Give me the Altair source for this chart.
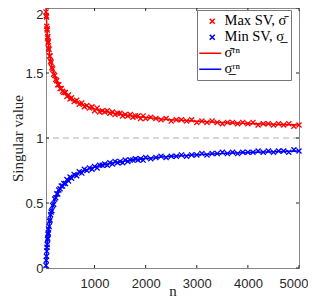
import altair as alt
import pandas as pd

# ---------------- data ----------------
n_vals = [50, 55, 60, 65, 70, 75, 80, 85, 90, 95, 100, 110, 120, 130, 140, 150, 165, 180,
          200, 220, 240, 260, 280, 300, 325, 350, 375, 400, 430, 460, 490, 520, 550,
          600, 650, 700, 750, 800, 850, 900, 950, 1000,
          1050, 1100, 1150, 1200, 1250, 1300, 1350, 1400, 1450, 1500, 1550, 1600, 1650,
          1700, 1750, 1800, 1850, 1900, 1950, 2000,
          2100, 2200, 2300, 2400, 2500, 2600, 2700, 2800, 2900, 3000, 3100, 3200, 3300,
          3400, 3500, 3600, 3700, 3800, 3900, 4000, 4100, 4200, 4300, 4400, 4500, 4600,
          4700, 4800, 4900, 5000]

max_sv = [1.97, 1.94, 1.93, 1.86, 1.84, 1.83, 1.77, 1.78, 1.73, 1.74, 1.69, 1.68, 1.63, 1.63, 1.59, 1.58, 1.54, 1.53,
          1.49, 1.48, 1.45, 1.44, 1.41, 1.41, 1.38, 1.38, 1.36, 1.35, 1.35, 1.32, 1.33, 1.30, 1.31,
          1.28, 1.29, 1.26, 1.27, 1.24, 1.25, 1.23, 1.24, 1.21,
          1.23, 1.20, 1.21, 1.20, 1.21, 1.19, 1.20, 1.18, 1.19, 1.19, 1.17, 1.18, 1.17,
          1.18, 1.16, 1.17, 1.17, 1.15, 1.17, 1.15,
          1.16, 1.15, 1.14, 1.15, 1.13, 1.14, 1.14, 1.13, 1.14, 1.12, 1.13, 1.12, 1.13,
          1.12, 1.11, 1.12, 1.12, 1.11, 1.12, 1.11, 1.12, 1.10, 1.11, 1.11, 1.10, 1.11,
          1.10, 1.11, 1.09, 1.10]

min_sv = [0.02, 0.06, 0.09, 0.13, 0.16, 0.18, 0.22, 0.23, 0.26, 0.27, 0.30, 0.32, 0.36, 0.37, 0.41, 0.43, 0.44, 0.48,
          0.49, 0.53, 0.54, 0.57, 0.57, 0.60, 0.61, 0.63, 0.63, 0.65, 0.65, 0.68, 0.67, 0.70, 0.69,
          0.72, 0.71, 0.74, 0.73, 0.76, 0.75, 0.77, 0.76, 0.78,
          0.77, 0.79, 0.79, 0.80, 0.79, 0.81, 0.80, 0.82, 0.81, 0.82, 0.81, 0.83, 0.82,
          0.83, 0.83, 0.84, 0.83, 0.84, 0.83, 0.85,
          0.84, 0.85, 0.86, 0.85, 0.86, 0.86, 0.87, 0.86, 0.87, 0.87, 0.88, 0.87, 0.88,
          0.88, 0.89, 0.88, 0.89, 0.88, 0.89, 0.89, 0.89, 0.90, 0.89, 0.90, 0.89, 0.90,
          0.90, 0.89, 0.91, 0.90]

max_rn = [2.000, 1.953, 1.913, 1.877, 1.845, 1.816, 1.791, 1.767, 1.745, 1.725, 1.707, 1.674, 1.645, 1.620, 1.598, 1.577, 1.550, 1.527,
          1.500, 1.477, 1.456, 1.439, 1.423, 1.408, 1.392, 1.378, 1.365, 1.354, 1.341, 1.330, 1.319, 1.310, 1.302,
          1.289, 1.277, 1.267, 1.258, 1.250, 1.243, 1.236, 1.229, 1.224,
          1.218, 1.213, 1.209, 1.204, 1.200, 1.196, 1.192, 1.189, 1.186, 1.183, 1.180, 1.177, 1.174,
          1.171, 1.169, 1.167, 1.164, 1.162, 1.160, 1.158,
          1.154, 1.151, 1.147, 1.144, 1.141, 1.139, 1.136, 1.134, 1.131, 1.129, 1.127, 1.125, 1.123,
          1.121, 1.120, 1.118, 1.116, 1.115, 1.113, 1.112, 1.110, 1.109, 1.108, 1.107, 1.105, 1.104,
          1.103, 1.102, 1.101, 1.100]

min_rn = [0.000, 0.047, 0.087, 0.123, 0.155, 0.184, 0.209, 0.233, 0.255, 0.275, 0.293, 0.326, 0.355, 0.380, 0.402, 0.423, 0.450, 0.473,
          0.500, 0.523, 0.544, 0.561, 0.577, 0.592, 0.608, 0.622, 0.635, 0.646, 0.659, 0.670, 0.681, 0.690, 0.698,
          0.711, 0.723, 0.733, 0.742, 0.750, 0.757, 0.764, 0.771, 0.776,
          0.782, 0.787, 0.791, 0.796, 0.800, 0.804, 0.808, 0.811, 0.814, 0.817, 0.820, 0.823, 0.826,
          0.829, 0.831, 0.833, 0.836, 0.838, 0.840, 0.842,
          0.846, 0.849, 0.853, 0.856, 0.859, 0.861, 0.864, 0.866, 0.869, 0.871, 0.873, 0.875, 0.877,
          0.879, 0.880, 0.882, 0.884, 0.885, 0.887, 0.888, 0.890, 0.891, 0.892, 0.893, 0.895, 0.896,
          0.897, 0.898, 0.899, 0.900]

x_ticks = [1000, 2000, 3000, 4000, 5000]
y_ticks = [0, 0.5, 1, 1.5, 2]
x_domain = [50, 5000]
y_domain = [0, 2]
ref_level = [1.0]

keys = ["maxsv", "minsv", "maxrn", "minrn"]
labels = ["Max SV, σ̄", "Min SV, σ̲", "σ̄ʳⁿ", "σ̲ʳⁿ"]
colors = ["#ff0000", "#0000ff", "#ff0000", "#0000ff"]

# ---------------- tables ----------------
N = len(n_vals)
pts = pd.DataFrame({"n": n_vals * 2, "v": max_sv + min_sv,
                    "s": ["maxsv"] * N + ["minsv"] * N})
lns = pd.DataFrame({"n": n_vals * 2, "v": max_rn + min_rn,
                    "s": ["maxrn"] * N + ["minrn"] * N})
both = pd.concat([pts, lns], ignore_index=True)
ref = pd.DataFrame({"level": ref_level})
xt = pd.DataFrame({"t": x_ticks})
yt = pd.DataFrame({"t": y_ticks})

W, H = 253, 260
# inward tick length (3 px) expressed in data units
TDY = 3 / H * (y_domain[1] - y_domain[0])
TDX = 3 / W * (x_domain[1] - x_domain[0])

XPATH = "M-0.23,-0.23L0.23,0.23M-0.23,0.23L0.23,-0.23"          # plotted markers
LEG_X = "M0.25,-0.417L1.083,0.417M0.25,0.417L1.083,-0.417"       # legend marker
LEG_L = "M-1.5,0L2.17,0"                                         # legend line
label_expr = ("datum.value == 'maxsv' ? '%s' : datum.value == 'minsv' ? '%s' : "
              "datum.value == 'maxrn' ? '%s' : '%s'") % tuple(labels)

TICKFONT = "Liberation Sans"
SERIF = "Liberation Serif"
AXC = "#262626"

xscale = alt.Scale(domain=x_domain, nice=False, zero=False)
yscale = alt.Scale(domain=y_domain, nice=False, zero=False)
cscale = alt.Scale(domain=keys, range=colors)
sscale = alt.Scale(domain=keys, range=[LEG_X, LEG_X, LEG_L, LEG_L])

legend = alt.Legend(
    title=None, orient="none", legendX=151, legendY=2,
    labelExpr=label_expr, labelFont=SERIF, labelFontSize=14.5, labelColor="#000000",
    symbolSize=144, symbolStrokeWidth=1.5, symbolOpacity=1, labelOffset=9, rowPadding=1,
    padding=4, strokeColor="#777777", fillColor="#ffffff", labelLimit=200,
)

bottom_axis = alt.Axis(values=x_ticks, format="d", title="n", orient="bottom", grid=False,
                       domain=False, ticks=False, labelPadding=9, labelFont=TICKFONT,
                       labelFontSize=13, labelColor=AXC, labelFlush=True, labelFlushOffset=9,
                       titleFont=SERIF, titleFontSize=15, titleFontWeight="normal",
                       titleColor=AXC, titleY=27, titleBaseline="alphabetic")
left_axis = alt.Axis(values=y_ticks, format="~g", title="Singular value", orient="left",
                     grid=False, domain=False, ticks=False, labelPadding=3, labelFont=TICKFONT,
                     labelFontSize=13, labelColor=AXC, titleFont=SERIF,
                     titleFontSize=15, titleFontWeight="normal", titleColor=AXC,
                     titleX=-29, titleY=H / 2, titleAngle=270, titleAlign="center",
                     titleBaseline="middle",
                     labelBaseline={"condition": {"test": "datum.value == 2", "value": "top"},
                                    "value": "middle"})


def X(field):
    return alt.X(field, scale=xscale, axis=bottom_axis)


def Y(field):
    return alt.Y(field, scale=yscale, axis=left_axis)


def XD(v):
    return alt.XDatum(v, type="quantitative", scale=xscale, axis=bottom_axis)


def YD(v):
    return alt.YDatum(v, type="quantitative", scale=yscale, axis=left_axis)


rule = alt.Chart(ref).mark_rule(strokeDash=[6, 4], color="#b0b0b0", strokeWidth=1).encode(
    y=Y("level:Q"))

tick_style = dict(color=AXC, strokeWidth=1)
t_bottom = alt.Chart(xt).mark_rule(**tick_style).encode(
    x=X("t:Q"), y=YD(y_domain[0]), y2=alt.Y2Datum(y_domain[0] + TDY))
t_top = alt.Chart(xt).mark_rule(**tick_style).encode(
    x=X("t:Q"), y=YD(y_domain[1]), y2=alt.Y2Datum(y_domain[1] - TDY))
t_left = alt.Chart(yt).mark_rule(**tick_style).encode(
    y=Y("t:Q"), x=XD(x_domain[0]), x2=alt.X2Datum(x_domain[0] + TDX))
t_right = alt.Chart(yt).mark_rule(**tick_style).encode(
    y=Y("t:Q"), x=XD(x_domain[1]), x2=alt.X2Datum(x_domain[1] - TDX))

# invisible layer whose only purpose is to carry the legend
legend_layer = alt.Chart(both).mark_point(opacity=0, filled=False).encode(
    x=X("n:Q"), y=Y("v:Q"),
    color=alt.Color("s:N", scale=cscale, legend=legend),
    shape=alt.Shape("s:N", scale=sscale, legend=legend),
)

points = alt.Chart(pts).mark_point(shape=XPATH, size=484, strokeWidth=1.3, opacity=1,
                                   filled=False).encode(
    x=X("n:Q"), y=Y("v:Q"),
    color=alt.Color("s:N", scale=cscale, legend=None),
)

lines = alt.Chart(lns).mark_line(strokeWidth=1.5).encode(
    x=X("n:Q"), y=Y("v:Q"),
    color=alt.Color("s:N", scale=cscale, legend=None),
    detail="s:N",
)

chart = alt.layer(legend_layer, rule, t_bottom, t_top, t_left, t_right, points, lines).properties(
    width=W, height=H,
    autosize=alt.AutoSizeParams(type="none"),
    padding={"left": 38, "top": 0, "right": 9, "bottom": 32},
    background="#ffffff",
).configure_view(stroke="#888888", strokeWidth=1)

chart.save("out.html", embed_options={"renderer": "svg", "actions": False})
